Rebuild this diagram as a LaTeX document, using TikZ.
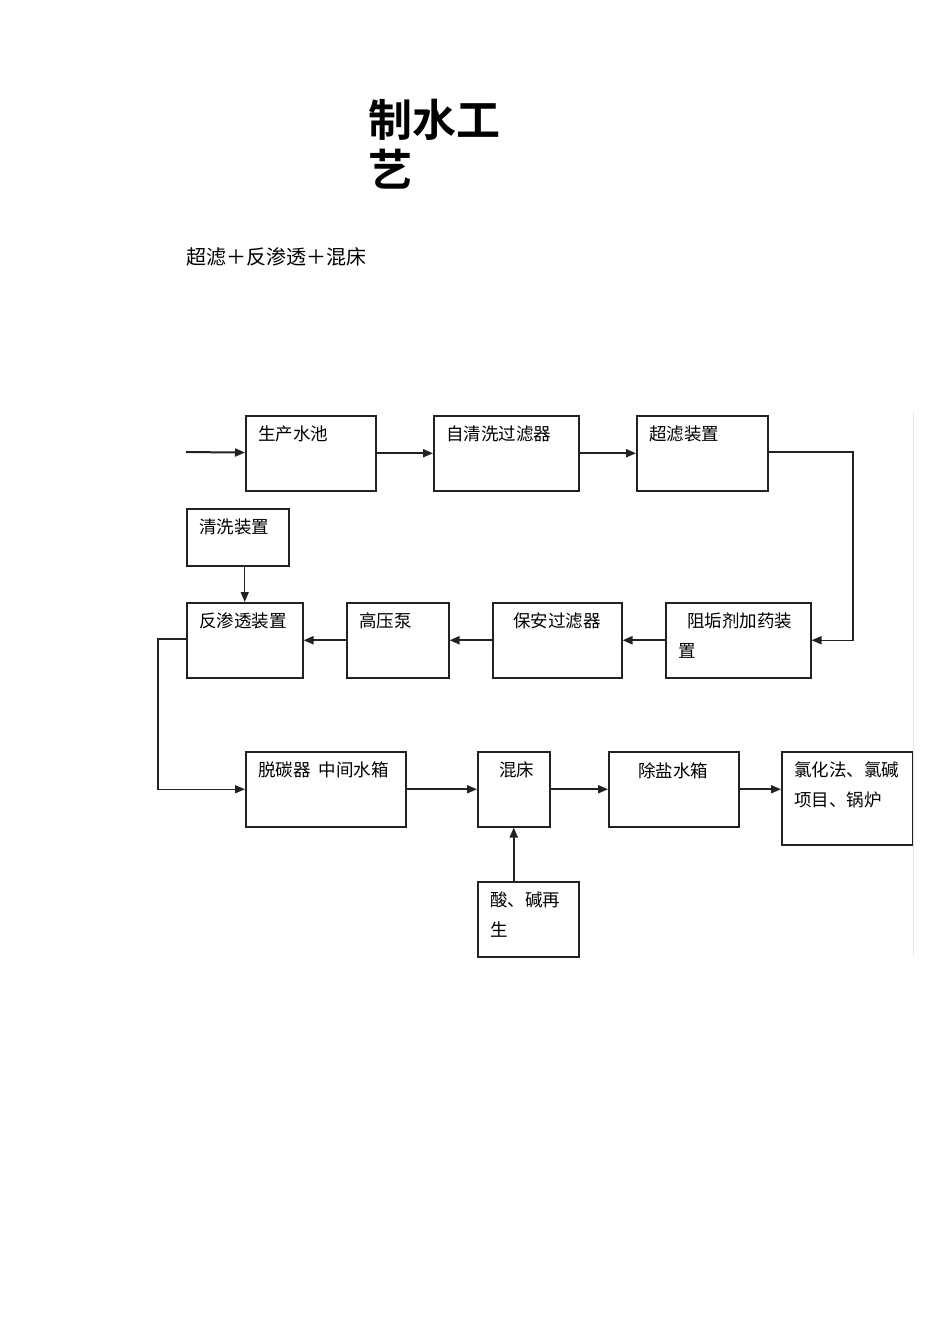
\documentclass[tikz,border=0pt]{standalone}
\usepackage{fontspec}
\setmainfont{Noto Sans CJK SC}
\newfontfamily\titlefont{Noto Sans CJK SC}[UprightFont=* Bold]
\usepackage{tikz}
\usetikzlibrary{arrows.meta,positioning,calc}
\definecolor{ink}{HTML}{222222}
\definecolor{rule}{HTML}{E4E4E4}
\newcommand\boxfont{\fontsize{17.5}{30}\selectfont}

\begin{document}
\begin{tikzpicture}[x=1pt,y=-1pt,
        unit/.style={draw=ink,line width=1.5pt,anchor=north west,inner sep=0pt},
        lbl/.style={anchor=north west,inner sep=0pt,font=\boxfont,align=left,
                    xshift=13pt,yshift=-11pt},
        flow/.style={draw=ink,line width=2pt,-{Triangle[length=10pt,width=8pt]}}]
      \useasboundingbox (0,0) rectangle (950,1344);
      % title
      \node[anchor=north west,inner sep=0pt,align=left,
            font=\fontsize{44}{50}\selectfont\titlefont] (title) at (368,99) {制水工\\艺};
      \node[anchor=west,inner sep=0pt,font=\fontsize{20}{24}\selectfont] (route) at (186,257)
            {超滤＋反渗透＋混床};
      % first row
      \node[unit,minimum width=130,minimum height=75,label={[lbl]north west:生产水池}] (pool) at (245,415) {};
      \node[unit,minimum width=145,minimum height=75,label={[lbl]north west:自清洗过滤器}] (selfclean) at (433,415) {};
      \node[unit,minimum width=131,minimum height=75,label={[lbl]north west:超滤装置}] (uf) at (636,415) {};
      % second row
      \node[unit,minimum width=102,minimum height=57,label={[lbl]north west:清洗装置}] (wash) at (186,508) {};
      \node[unit,minimum width=116,minimum height=75,label={[lbl]north west:反渗透装置}] (ro) at (186,602) {};
      \node[unit,minimum width=102,minimum height=75,label={[lbl]north west:高压泵}] (hpump) at (346,602) {};
      \node[unit,minimum width=129,minimum height=75,label={[lbl,xshift=8pt]north west:保安过滤器}] (guard) at (492,602) {};
      \node[unit,minimum width=145,minimum height=75,label={[lbl]north west:\hspace{9pt}阻垢剂加药装\\置}] (antiscal) at (665,602) {};
      % third row
      \node[unit,minimum width=160,minimum height=75,label={[lbl]north west:脱碳器\ \ 中间水箱}] (decarb) at (245,751) {};
      \node[unit,minimum width=72,minimum height=75,label={[lbl,xshift=9pt]north west:混床}] (mixbed) at (477,751) {};
      \node[unit,minimum width=130,minimum height=75,label={[lbl,xshift=17pt]north west:除盐水箱}] (demin) at (608,751) {};
      \node[unit,minimum width=131,minimum height=93,label={[lbl]north west:氯化法、氯碱\\项目、锅炉}] (user) at (781,751) {};
      \node[unit,minimum width=101,minimum height=75,label={[lbl]north west:酸、碱再\\生}] (regen) at (477,881) {};
      \draw[rule,line width=1pt] (913,412) -- (913,956);
      % connectors
      \coordinate (feed) at (186,452);
      \coordinate (ufturn) at (853,452);
      \coordinate (roturn) at (158,639);
      \draw[flow] (feed) -- (pool);
      \draw[flow] (pool) -- (selfclean);
      \draw[flow] (selfclean) -- (uf);
      \draw[flow,line width=1.4pt] (uf.east |- ufturn) -- (ufturn) |- (antiscal);
      \draw[flow] (antiscal) -- (guard);
      \draw[flow] (guard) -- (hpump);
      \draw[flow] (hpump) -- (ro);
      \draw[flow,line width=1.4pt] (ro.north |- wash.south) -- (ro.north);
      \draw[flow,line width=1.4pt] (ro.west |- roturn) -- (roturn) |- (decarb);
      \draw[flow] (decarb) -- (mixbed);
      \draw[flow] (mixbed) -- (demin);
      \draw[flow] (demin) -- (demin -| user.west);
      \draw[flow] (mixbed.south |- regen.north) -- (mixbed.south);
    \end{tikzpicture}
\end{document}
